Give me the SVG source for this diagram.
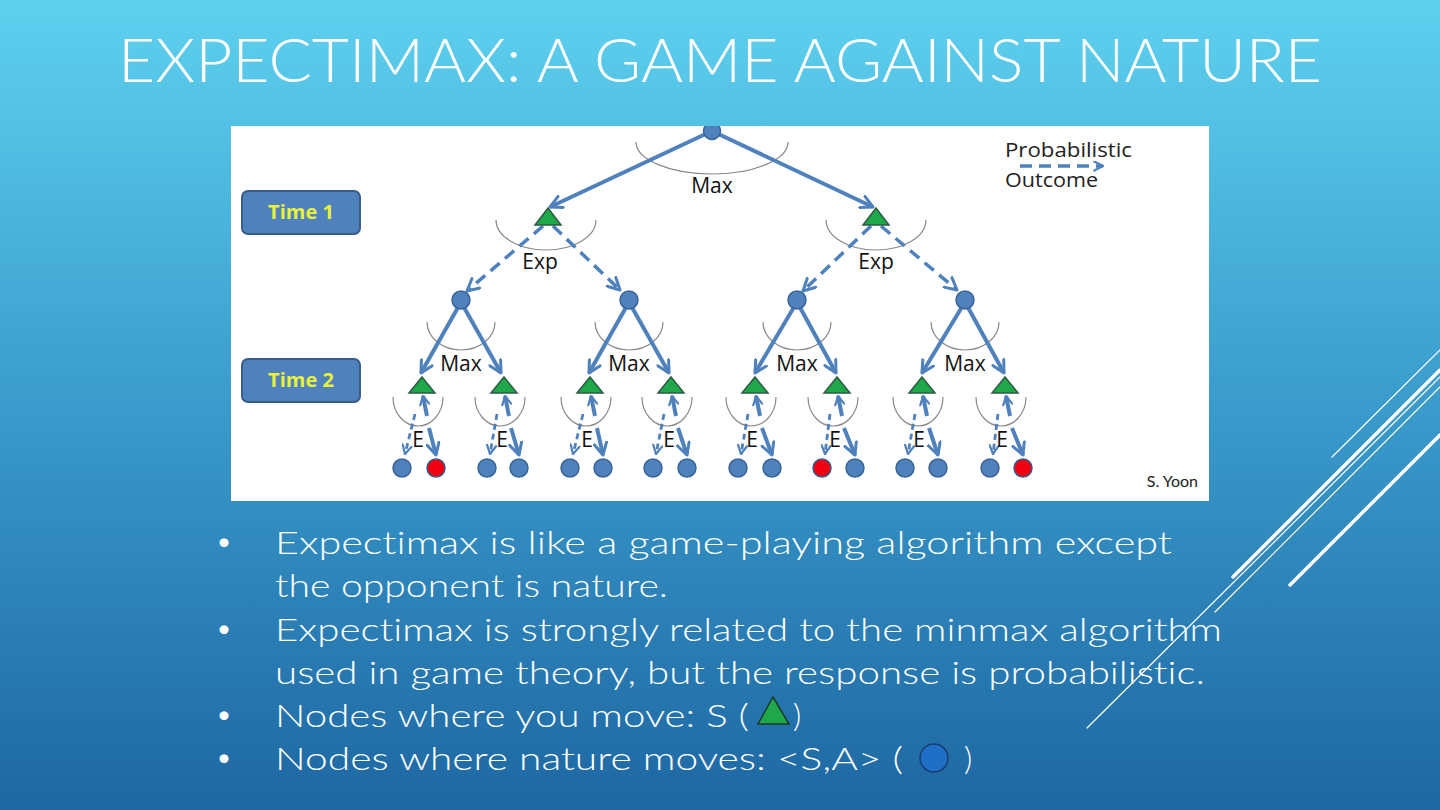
<svg xmlns="http://www.w3.org/2000/svg" width="1440" height="810" viewBox="0 0 1440 810">
<defs>
<linearGradient id="bg" x1="0" y1="0" x2="0" y2="1">
<stop offset="0" stop-color="#5ED1EF"/>
<stop offset="0.5" stop-color="#3A9BCC"/>
<stop offset="1" stop-color="#1E67A2"/>
</linearGradient>
<clipPath id="panel"><rect x="231" y="126" width="978" height="375"/></clipPath>
<marker id="arr" viewBox="0 0 12 12" refX="10.5" refY="6" markerWidth="15" markerHeight="15" markerUnits="userSpaceOnUse" orient="auto">
<path d="M1,1 L10.5,6 L1,11" fill="none" stroke="#4F81BD" stroke-width="2.4" stroke-linecap="round" stroke-linejoin="round"/>
</marker>
<marker id="arrs" viewBox="0 0 12 12" refX="10.5" refY="6" markerWidth="11" markerHeight="11" markerUnits="userSpaceOnUse" orient="auto">
<path d="M1,1 L10.5,6 L1,11" fill="none" stroke="#4F81BD" stroke-width="2.4" stroke-linecap="round" stroke-linejoin="round"/>
</marker>
</defs>
<style>
.title{font-family:Lato,"Liberation Sans",sans-serif;font-weight:300;font-size:62px;fill:#FFFFFF;font-variant-ligatures:none}
.bul{font-family:Lato,"Liberation Sans",sans-serif;font-weight:300;font-size:32px;fill:#FFFFFF;font-variant-ligatures:none}
.dot{font-family:Lato,"Liberation Sans",sans-serif;font-size:24px;fill:#FFFFFF}
.lbl{font-family:"Open Sans","Liberation Sans",sans-serif;font-size:21px;fill:#111111}
.leg{font-family:"Open Sans","Liberation Sans",sans-serif;font-size:20px;fill:#222222}
.tb{fill:#4F81BD;stroke:#385D8A;stroke-width:2}
.tt{font-family:"Open Sans","Liberation Sans",sans-serif;font-size:20px;font-weight:bold;fill:#E9F23B}
.arc{fill:none;stroke:#8A8A8A;stroke-width:1.2}
.e{stroke:#4F81BD;stroke-width:4;fill:none;stroke-linecap:butt}
.d{stroke:#4F81BD;stroke-width:3.5;fill:none;stroke-dasharray:12 7}
.ds{stroke:#4F81BD;stroke-width:2.8;fill:none;stroke-dasharray:6 4}
.c{fill:#4F81BD;stroke:#3A6596;stroke-width:1.5}
.r{fill:#F00010;stroke:#3A5A8C;stroke-width:1.5}
.t{fill:#1FA84A;stroke:#2C5A45;stroke-width:1.5}
.deco{stroke:#FFFFFF;fill:none;stroke-linecap:round}
</style>
<rect x="0" y="0" width="1440" height="810" fill="url(#bg)"/>
<g id="decoration">
<line class="deco" x1="1332" y1="457" x2="1440" y2="350" stroke-width="1.2"/>
<line class="deco" x1="1233" y1="577" x2="1440" y2="370" stroke-width="3.5"/>
<line class="deco" x1="1087" y1="728" x2="1440" y2="377" stroke-width="1.2"/>
<line class="deco" x1="1215" y1="612" x2="1440" y2="387" stroke-width="1.2"/>
<line class="deco" x1="1290" y1="585" x2="1440" y2="435" stroke-width="3.5"/>
</g>
<g id="title"><text class="title" x="118" y="82" textLength="1204" lengthAdjust="spacingAndGlyphs">EXPECTIMAX: A GAME AGAINST NATURE</text></g>
<rect id="image-panel" x="231" y="126" width="978" height="375" fill="#FFFFFF"/>
<g clip-path="url(#panel)">
<g id="arcs">
<path class="arc" d="M636,142 A76,32 0 0 0 788,142"/>
<path class="arc" d="M496,220 A50,30 0 0 0 596,220"/>
<path class="arc" d="M826,220 A50,30 0 0 0 926,220"/>
<path class="arc" d="M427,322 A34,28 0 0 0 495,322"/>
<path class="arc" d="M595,322 A34,28 0 0 0 663,322"/>
<path class="arc" d="M763,322 A34,28 0 0 0 831,322"/>
<path class="arc" d="M931,322 A34,28 0 0 0 999,322"/>
<path class="arc" d="M393,397 A25,29 0 0 0 443,397"/>
<path class="arc" d="M475,397 A25,29 0 0 0 525,397"/>
<path class="arc" d="M561,397 A25,29 0 0 0 611,397"/>
<path class="arc" d="M642,397 A25,29 0 0 0 692,397"/>
<path class="arc" d="M726,397 A25,29 0 0 0 776,397"/>
<path class="arc" d="M808,397 A25,29 0 0 0 858,397"/>
<path class="arc" d="M893,397 A25,29 0 0 0 943,397"/>
<path class="arc" d="M976,397 A25,29 0 0 0 1026,397"/>
</g>
<g id="connectors">
<line class="e" x1="712" y1="131" x2="550" y2="207" marker-end="url(#arr)"/>
<line class="e" x1="712" y1="131" x2="873" y2="207" marker-end="url(#arr)"/>
<line class="d" x1="543" y1="226" x2="467" y2="291" stroke-width="3" marker-end="url(#arr)"/>
<line class="d" x1="553" y1="226" x2="620" y2="290" stroke-width="5" marker-end="url(#arr)"/>
<line class="d" x1="871" y1="226" x2="803" y2="291" stroke-width="3" marker-end="url(#arr)"/>
<line class="d" x1="881" y1="226" x2="957" y2="290" stroke-width="5" marker-end="url(#arr)"/>
<line class="e" x1="461" y1="302" x2="421" y2="373" marker-end="url(#arr)"/>
<line class="e" x1="461" y1="302" x2="501" y2="373" marker-end="url(#arr)"/>
<line class="e" x1="629" y1="302" x2="589" y2="373" marker-end="url(#arr)"/>
<line class="e" x1="629" y1="302" x2="669" y2="373" marker-end="url(#arr)"/>
<line class="e" x1="797" y1="302" x2="755" y2="373" marker-end="url(#arr)"/>
<line class="e" x1="797" y1="302" x2="836" y2="373" marker-end="url(#arr)"/>
<line class="e" x1="965" y1="302" x2="922" y2="373" marker-end="url(#arr)"/>
<line class="e" x1="965" y1="302" x2="1004" y2="373" marker-end="url(#arr)"/>
<line class="e" x1="427" y1="416" x2="423" y2="396" marker-end="url(#arrs)"/>
<line class="ds" x1="415" y1="414" x2="405" y2="454" marker-end="url(#arrs)"/>
<line class="e" x1="429" y1="428" x2="436" y2="455" marker-end="url(#arr)"/>
<line class="e" x1="509" y1="416" x2="505" y2="396" marker-end="url(#arrs)"/>
<line class="ds" x1="497" y1="414" x2="490" y2="454" marker-end="url(#arrs)"/>
<line class="e" x1="511" y1="428" x2="519" y2="455" marker-end="url(#arr)"/>
<line class="e" x1="595" y1="416" x2="591" y2="396" marker-end="url(#arrs)"/>
<line class="ds" x1="583" y1="414" x2="573" y2="454" marker-end="url(#arrs)"/>
<line class="e" x1="597" y1="428" x2="603" y2="455" marker-end="url(#arr)"/>
<line class="e" x1="676" y1="416" x2="672" y2="396" marker-end="url(#arrs)"/>
<line class="ds" x1="664" y1="414" x2="656" y2="454" marker-end="url(#arrs)"/>
<line class="e" x1="678" y1="428" x2="687" y2="455" marker-end="url(#arr)"/>
<line class="e" x1="760" y1="416" x2="756" y2="396" marker-end="url(#arrs)"/>
<line class="ds" x1="748" y1="414" x2="741" y2="454" marker-end="url(#arrs)"/>
<line class="e" x1="762" y1="428" x2="772" y2="455" marker-end="url(#arr)"/>
<line class="e" x1="842" y1="416" x2="838" y2="396" marker-end="url(#arrs)"/>
<line class="ds" x1="830" y1="414" x2="825" y2="454" marker-end="url(#arrs)"/>
<line class="e" x1="844" y1="428" x2="855" y2="455" marker-end="url(#arr)"/>
<line class="e" x1="927" y1="416" x2="923" y2="396" marker-end="url(#arrs)"/>
<line class="ds" x1="915" y1="414" x2="908" y2="454" marker-end="url(#arrs)"/>
<line class="e" x1="929" y1="428" x2="938" y2="455" marker-end="url(#arr)"/>
<line class="e" x1="1010" y1="416" x2="1006" y2="396" marker-end="url(#arrs)"/>
<line class="ds" x1="998" y1="414" x2="993" y2="454" marker-end="url(#arrs)"/>
<line class="e" x1="1012" y1="428" x2="1023" y2="455" marker-end="url(#arr)"/>
<line class="d" x1="1020" y1="166" x2="1103" y2="166" stroke-width="3" stroke-dasharray="9 6" marker-end="url(#arrs)"/>
</g>
<g id="root"><circle class="c" cx="712" cy="131" r="8.5"/></g>
<g id="max-l1-left"><polygon class="t" points="548,208 561,225 535,225"/></g>
<g id="max-l1-right"><polygon class="t" points="876,208 889,225 863,225"/></g>
<g id="chance-l2">
<circle class="c" cx="461" cy="300" r="9"/>
<circle class="c" cx="629" cy="300" r="9"/>
<circle class="c" cx="797" cy="300" r="9"/>
<circle class="c" cx="965" cy="300" r="9"/>
</g>
<g id="max-l3">
<polygon class="t" points="422,377 435,393 409,393"/>
<polygon class="t" points="504,377 517,393 491,393"/>
<polygon class="t" points="590,377 603,393 577,393"/>
<polygon class="t" points="671,377 684,393 658,393"/>
<polygon class="t" points="755,377 768,393 742,393"/>
<polygon class="t" points="837,377 850,393 824,393"/>
<polygon class="t" points="922,377 935,393 909,393"/>
<polygon class="t" points="1005,377 1018,393 992,393"/>
</g>
<g id="leaves">
<circle class="c" cx="402" cy="468" r="9"/>
<circle class="r" cx="436" cy="468" r="9"/>
<circle class="c" cx="487" cy="468" r="9"/>
<circle class="c" cx="519" cy="468" r="9"/>
<circle class="c" cx="570" cy="468" r="9"/>
<circle class="c" cx="603" cy="468" r="9"/>
<circle class="c" cx="653" cy="468" r="9"/>
<circle class="c" cx="687" cy="468" r="9"/>
<circle class="c" cx="738" cy="468" r="9"/>
<circle class="c" cx="772" cy="468" r="9"/>
<circle class="r" cx="822" cy="468" r="9"/>
<circle class="c" cx="855" cy="468" r="9"/>
<circle class="c" cx="905" cy="468" r="9"/>
<circle class="c" cx="938" cy="468" r="9"/>
<circle class="c" cx="990" cy="468" r="9"/>
<circle class="r" cx="1023" cy="468" r="9"/>
</g>
<g id="labels" text-anchor="middle">
<text class="lbl" x="712" y="193">Max</text>
<text class="lbl" x="540" y="269">Exp</text>
<text class="lbl" x="876" y="269">Exp</text>
<text class="lbl" x="461" y="371">Max</text>
<text class="lbl" x="629" y="371">Max</text>
<text class="lbl" x="797" y="371">Max</text>
<text class="lbl" x="965" y="371">Max</text>
<text class="lbl" x="418" y="447">E</text>
<text class="lbl" x="502" y="447">E</text>
<text class="lbl" x="587" y="447">E</text>
<text class="lbl" x="669" y="447">E</text>
<text class="lbl" x="752" y="447">E</text>
<text class="lbl" x="835" y="447">E</text>
<text class="lbl" x="919" y="447">E</text>
<text class="lbl" x="1002" y="447">E</text>
</g>
<g id="legend">
<text class="leg" x="1005" y="157" textLength="127" lengthAdjust="spacingAndGlyphs">Probabilistic</text>
<text class="leg" x="1005" y="187" textLength="93" lengthAdjust="spacingAndGlyphs">Outcome</text>
</g>
<g id="time1"><rect class="tb" x="242" y="191" width="118" height="43" rx="6"/><text class="tt" x="301" y="219" text-anchor="middle">Time 1</text></g>
<g id="time2"><rect class="tb" x="242" y="359" width="118" height="43" rx="6"/><text class="tt" x="301" y="387" text-anchor="middle">Time 2</text></g>
<text x="1198" y="487" text-anchor="end" font-family="Lato,'Liberation Sans',sans-serif" font-size="16" fill="#222222">S. Yoon</text>
</g>
<g id="bullets">
<text class="dot" x="217" y="550">•</text>
<text class="bul" x="275" y="554" textLength="897" lengthAdjust="spacingAndGlyphs">Expectimax is like a game-playing algorithm except</text>
<text class="bul" x="275" y="597" textLength="393" lengthAdjust="spacingAndGlyphs">the opponent is nature.</text>
<text class="dot" x="217" y="637">•</text>
<text class="bul" x="275" y="641" textLength="947" lengthAdjust="spacingAndGlyphs">Expectimax is strongly related to the minmax algorithm</text>
<text class="bul" x="275" y="684" textLength="930" lengthAdjust="spacingAndGlyphs">used in game theory, but the response is probabilistic.</text>
<text class="dot" x="217" y="723">•</text>
<text class="bul" x="275" y="727" textLength="474" lengthAdjust="spacingAndGlyphs">Nodes where you move: S (</text>
<polygon points="773,697 789,724 758,724" fill="#1FA84A" stroke="#1A3A2A" stroke-width="1.5"/>
<text class="bul" x="793" y="727">)</text>
<text class="dot" x="217" y="766">•</text>
<text class="bul" x="275" y="770" textLength="628" lengthAdjust="spacingAndGlyphs">Nodes where nature moves: &lt;S,A&gt;  (</text>
<circle cx="934" cy="758" r="14" fill="#1F6FC6" stroke="#1A3D6E" stroke-width="1.5"/>
<text class="bul" x="964" y="770">)</text>
</g>
</svg>
